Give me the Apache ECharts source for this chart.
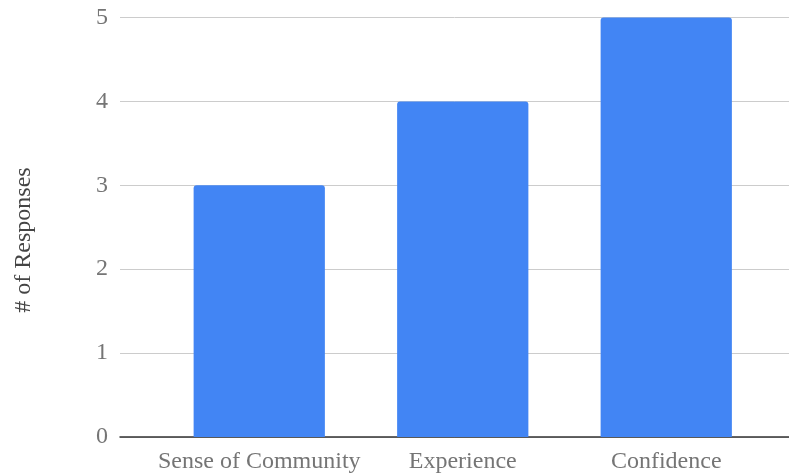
<!DOCTYPE html>
<html>
<head>
<meta charset="utf-8">
<script src="https://cdn.jsdelivr.net/npm/echarts@6/dist/echarts.min.js"></script>
<style>html,body{margin:0;padding:0;background:#fff}#c{width:789px;height:473px}</style>
</head>
<body>
<div id="c"></div>
<script>
const categories = ["Sense of Community", "Experience", "Confidence"];
const responses = [3, 4, 5];
const yTicks = [0, 1, 2, 3, 4, 5];
const yAxisName = "# of Responses";

const chart = echarts.init(document.getElementById('c'), null, {renderer: 'canvas'});
const font = "'Liberation Serif', 'Times New Roman', serif";
const gridTop = 17.5, gridBottom = 36;
chart.setOption({
  animation: false,
  grid: [
    {left: 120, right: 0, top: gridTop, bottom: gridBottom, outerBoundsMode: 'none', containLabel: false},
    {left: 157.5, right: 21, top: gridTop, bottom: gridBottom, outerBoundsMode: 'none', containLabel: false}
  ],
  graphic: [{
    type: 'text', x: 24, y: 240, rotation: Math.PI / 2,
    style: {text: yAxisName, fill: '#444', font: "24px 'Liberation Serif', serif",
            textAlign: 'center', textVerticalAlign: 'middle'}
  }],
  xAxis: [
    {gridIndex: 0, type: 'value', min: 0, max: 1, show: true,
     axisLine: {show: true, onZero: false, lineStyle: {color: '#333', width: 1.5}},
     axisTick: {show: false}, axisLabel: {show: false}, splitLine: {show: false}},
    {gridIndex: 1, type: 'category', data: categories,
     axisLine: {show: false}, axisTick: {show: false},
     axisLabel: {color: '#757575', fontFamily: font, fontSize: 24, margin: 13, interval: 0}}
  ],
  yAxis: [
    {gridIndex: 0, type: 'value', min: yTicks[0], max: yTicks[yTicks.length-1], interval: 1,
     axisLine: {show: false}, axisTick: {show: false},
     axisLabel: {color: '#757575', fontFamily: font, fontSize: 24, margin: 12},
     splitLine: {lineStyle: {color: '#cccccc', width: 1}}},
    {gridIndex: 1, type: 'value', min: yTicks[0], max: yTicks[yTicks.length-1], interval: 1, show: false}
  ],
  series: [{
    type: 'bar', xAxisIndex: 1, yAxisIndex: 1, data: responses,
    barWidth: '64.5%',
    itemStyle: {color: '#4285F4', borderRadius: [3, 3, 0, 0]}
  }]
});
</script>
</body>
</html>
